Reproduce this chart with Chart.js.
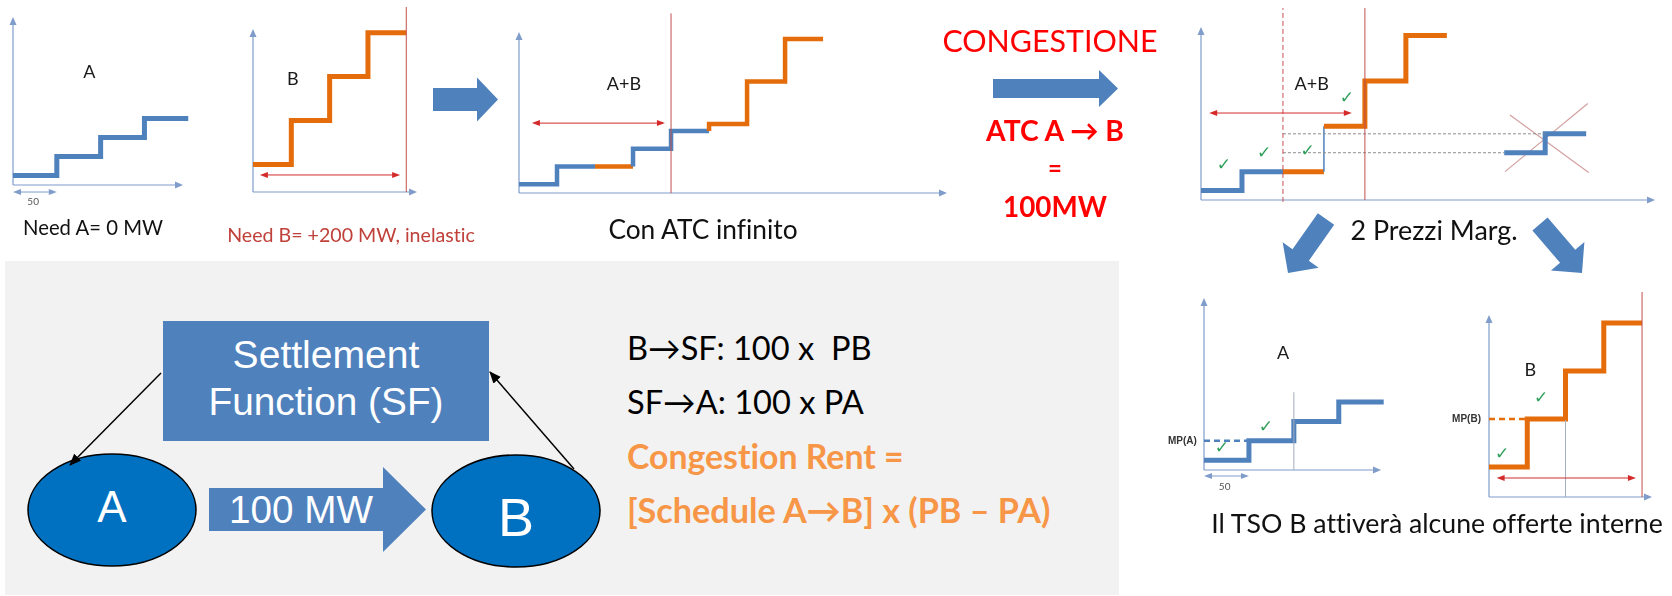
<!DOCTYPE html>
<html>
<head>
<meta charset="utf-8">
<script src="https://cdn.jsdelivr.net/npm/chart.js@4.4.1/dist/chart.umd.min.js"></script>
<style>
  body { margin: 0; width: 1672px; height: 596px; background: #fff; position: relative; overflow: hidden; }
  canvas { position: absolute; }
  svg { position: absolute; left: 0; top: 0; }
  .t { position: absolute; white-space: pre; line-height: 1; font-variant-ligatures: none; font-feature-settings: "liga" 0, "clig" 0; }
</style>
</head>
<body>
<svg id="deco" width="1672" height="596">
  <defs>
    <marker id="punta" markerWidth="12" markerHeight="10" refX="11" refY="5" orient="auto" markerUnits="userSpaceOnUse">
      <path d="M0,0 L12,5 L0,10 z" fill="#000"/>
    </marker>
  </defs>
  <rect x="5" y="261" width="1114" height="334" fill="#f2f2f2"/>
  <rect x="163" y="321" width="326" height="120" fill="#4f81bd"/>
  <ellipse cx="112" cy="510" rx="84" ry="56" fill="#0070c0" stroke="#000" stroke-width="1.5"/>
  <ellipse cx="516" cy="511" rx="84" ry="56" fill="#0070c0" stroke="#000" stroke-width="1.5"/>
  <line x1="161" y1="373" x2="70" y2="465" stroke="#000" stroke-width="1.5" marker-end="url(#punta)"/>
  <line x1="574" y1="469" x2="490" y2="372" stroke="#000" stroke-width="1.5" marker-end="url(#punta)"/>
</svg>
<script>
// ---- dati ----
const passoMW = 50;                   // ogni offerta vale 50 MW
const offerteA = [10, 30, 50, 70];    // prezzi offerte zona A
const offerteB = [30, 78, 126, 174];  // prezzi offerte zona B
const fabbisognoB = 200;              // Need B, MW
const atc = 100;                      // ATC A -> B, MW
const inizioScartate = 370;           // posizione (MW) delle offerte A non accettate, barrate

const BLU = '#4f81bd', ARANCIO = '#e46c0a', ROSSO = '#c0504d', ROSSO_F = '#d42a2a';
const ASSE = '#7f9ccb', GRIGIO = '#a3adbb', VERDE = '#2f9f5a';
const LATO = "Lato, 'Open Sans', sans-serif", ARIAL = "'Liberation Sans', Arial, sans-serif";

// gradini: due punti per offerta
function gradini(prezzi, q0 = 0) {
    const pts = [];
    prezzi.forEach((p, i) => {
        pts.push({ x: q0 + i * passoMW, y: p }, { x: q0 + (i + 1) * passoMW, y: p });
    });
    return pts;
}
const seg = (x0, y0, x1, y1) => [{ x: x0, y: y0 }, { x: x1, y: y1 }];

const serie = (data, colore, spessore, extra = {}) => ({
    data, borderColor: colore, borderWidth: spessore, pointRadius: 0, clip: false,
    borderJoinStyle: 'miter', borderCapStyle: 'butt', tension: 0, ...extra
});

// ordine di merito A+B (a parità di prezzo prima A)
const merito = [...offerteA.map(p => ({ p, z: 'A' })), ...offerteB.map(p => ({ p, z: 'B' }))]
    .sort((a, b) => a.p - b.p || (a.z < b.z ? -1 : 1));

// con congestione: A fino all'ATC, poi le offerte di B
const nA = atc / passoMW;
const congest = [...offerteA.slice(0, nA).map(p => ({ p, z: 'A' })), ...offerteB.map(p => ({ p, z: 'B' }))];

const coloreZona = z => z === 'A' ? BLU : ARANCIO;

// ---- helper disegno ----
function linea(ctx, x0, y0, x1, y1) { ctx.beginPath(); ctx.moveTo(x0, y0); ctx.lineTo(x1, y1); ctx.stroke(); }
function punta(ctx, x0, y0, x1, y1, len, half) {
    const a = Math.atan2(y1 - y0, x1 - x0);
    ctx.beginPath();
    ctx.moveTo(x1, y1);
    ctx.lineTo(x1 - len * Math.cos(a) + half * Math.sin(a), y1 - len * Math.sin(a) - half * Math.cos(a));
    ctx.lineTo(x1 - len * Math.cos(a) - half * Math.sin(a), y1 - len * Math.sin(a) + half * Math.cos(a));
    ctx.closePath(); ctx.fill();
}

const schema = {
    id: 'schema',
    beforeDatasetsDraw(chart) {
        const { ctx, chartArea: a } = chart;
        ctx.save();
        ctx.strokeStyle = ctx.fillStyle = ASSE; ctx.lineWidth = 1.2;
        linea(ctx, a.left, a.bottom, a.right - 4, a.bottom);
        linea(ctx, a.left, a.bottom, a.left, a.top + 4);
        punta(ctx, a.left, a.bottom, a.right, a.bottom, 8, 3.5);
        punta(ctx, a.left, a.bottom, a.left, a.top, 8, 3.5);
        ctx.restore();
    },
    afterDatasetsDraw(chart, args, o) {
        const { ctx, scales: { x, y } } = chart;
        ctx.save();
        (o.frecce || []).forEach(f => {
            const yy = y.getPixelForValue(f.y), xa = x.getPixelForValue(f.x0), xb = x.getPixelForValue(f.x1);
            ctx.strokeStyle = ctx.fillStyle = f.colore; ctx.lineWidth = 1;
            linea(ctx, xa + 3, yy, xb - 3, yy);
            punta(ctx, xb, yy, xa, yy, 8, 3);
            punta(ctx, xa, yy, xb, yy, 8, 3);
        });
        (o.spunte || []).forEach(s => {
            ctx.font = 'bold 17px "DejaVu Sans"'; ctx.fillStyle = VERDE;
            ctx.textAlign = 'center'; ctx.textBaseline = 'middle';
            ctx.fillText('\u2713', x.getPixelForValue(s[0]), y.getPixelForValue(s[1]));
        });
        (o.testi || []).forEach(t => {
            ctx.font = t.font; ctx.fillStyle = t.colore || '#222';
            ctx.textAlign = t.align || 'center'; ctx.textBaseline = 'middle';
            ctx.fillText(t.testo, x.getPixelForValue(t.x), y.getPixelForValue(t.y));
        });
        ctx.restore();
    }
};

function grafico(box, xMax, yMax, datasets, opz) {
    const pad = 50;
    const c = document.createElement('canvas');
    const w = box.r - box.l + 2 * pad, h = box.b - box.t + 2 * pad;
    c.width = w; c.height = h;
    c.style.left = (box.l - pad) + 'px'; c.style.top = (box.t - pad) + 'px';
    c.style.width = w + 'px'; c.style.height = h + 'px';
    document.body.appendChild(c);
    return new Chart(c, {
        type: 'line',
        data: { datasets },
        options: {
            responsive: false, animation: false, events: [],
            layout: { padding: pad },
            scales: {
                x: { type: 'linear', min: 0, max: xMax, display: false },
                y: { type: 'linear', min: 0, max: yMax, display: false }
            },
            plugins: { legend: { display: false }, tooltip: { enabled: false }, schema: opz }
        },
        plugins: [schema]
    });
}

const etich = (testo, x, y) => ({ testo, x, y, font: '18px ' + LATO, colore: '#1a1a1a' });
const quota = y => ({ x0: 0, x1: passoMW, y, colore: ASSE });

// A
grafico({ l: 13, t: 17, r: 183, b: 185 }, 194, 177,
    [serie(gradini(offerteA), BLU, 5)],
    { frecce: [quota(-7.4)], testi: [etich('A', 87, 119), { testo: '50', x: 23, y: -18, font: '10px ' + LATO, colore: '#555' }] });

// B
grafico({ l: 253, t: 29, r: 417, b: 192 }, 214, 178,
    [serie(seg(fabbisognoB, 0, fabbisognoB, 202), ROSSO, 1), serie(gradini(offerteB), ARANCIO, 5)],
    { frecce: [{ x0: 9, x1: 192, y: 18.6, colore: ROSSO_F }], testi: [etich('B', 52, 123)] });

// A+B, ATC infinito
grafico({ l: 519, t: 32, r: 947, b: 193 }, 563, 182,
    [serie(seg(fabbisognoB, 0, fabbisognoB, 203), ROSSO, 1),
     serie(gradini(merito.map(o => o.p)), BLU, 4.5, {
         segment: { borderColor: c => coloreZona(merito[Math.ceil(c.p0DataIndex / 2)].z) }
     })],
    { frecce: [{ x0: 17, x1: 192, y: 79, colore: ROSSO_F }], testi: [etich('A+B', 138, 123)] });

// congestione
grafico({ l: 1201, t: 27, r: 1655, b: 200 }, 554, 183,
    [serie(seg(atc, -2, atc, 203), ROSSO, 1, { borderDash: [5, 3] }),
     serie(seg(fabbisognoB, 0, fabbisognoB, 203), ROSSO, 1),
     serie(seg(atc, offerteA[2], inizioScartate, offerteA[2]), '#8c8c8c', 1, { borderDash: [3, 2] }),
     serie(seg(atc, offerteA[3], inizioScartate + passoMW, offerteA[3]), '#8c8c8c', 1, { borderDash: [3, 2] }),
     serie(gradini(congest.map(o => o.p)), BLU, 5, {
         segment: {
             // il tratto verticale tra B1 e B2 nel disegno è sottile e blu
             borderColor: c => c.p0DataIndex === 2 * nA + 1 ? BLU : coloreZona(congest[Math.ceil(c.p0DataIndex / 2)].z),
             borderWidth: c => c.p0DataIndex === 2 * nA + 1 ? 1.5 : 5
         }
     }),
     serie(gradini(offerteA.slice(nA), inizioScartate), BLU, 5),
     serie(seg(377, 90, 473, 29), '#d4a0a0', 1.2),
     serie(seg(371, 30, 472, 102), '#d4a0a0', 1.2)],
    { frecce: [{ x0: 10, x1: 184, y: 92, colore: ROSSO_F }], testi: [etich('A+B', 135, 123)],
      spunte: [[28, 36], [77, 49], [130, 51], [178, 107]] });

// A dopo la congestione
grafico({ l: 1204, t: 298, r: 1381, b: 470 }, 197, 177,
    [serie(seg(atc, 0, atc, 80), GRIGIO, 1),
     serie(seg(0, offerteA[1], passoMW, offerteA[1]), BLU, 2.5, { borderDash: [6, 4] }),
     serie(gradini(offerteA), BLU, 5)],
    { frecce: [quota(-6.2)],
      testi: [etich('A', 88, 120), { testo: '50', x: 23, y: -17.5, font: '10px ' + LATO, colore: '#555' },
              { testo: 'MP(A)', x: -8, y: offerteA[1], font: 'bold 10px ' + ARIAL, colore: '#333', align: 'right' }],
      spunte: [[20, 21.6], [69, 44]] });

// B dopo la congestione
grafico({ l: 1489, t: 315, r: 1652, b: 497 }, 213, 182,
    [serie(seg(atc, 0, atc, 77), GRIGIO, 1),
     serie(seg(fabbisognoB, 0, fabbisognoB, 205), ROSSO, 1),
     serie(seg(0, offerteB[1], passoMW, offerteB[1]), ARANCIO, 2.5, { borderDash: [6, 4] }),
     serie(gradini(offerteB), ARANCIO, 5)],
    { frecce: [{ x0: 10, x1: 192, y: 19, colore: ROSSO_F }],
      testi: [etich('B', 54, 127),
              { testo: 'MP(B)', x: -10.5, y: offerteB[1], font: 'bold 10px ' + ARIAL, colore: '#333', align: 'right' }],
      spunte: [[17, 42], [68, 98]] });

// ---- frecce a blocco ----
function frecciaBlocco(tx, ty, px, py, corpo, testa, lung) {
    const L = Math.hypot(px - tx, py - ty), dx = (px - tx) / L, dy = (py - ty) / L, nx = -dy, ny = dx;
    const bx = px - dx * lung, by = py - dy * lung;
    const pts = [[tx + nx * corpo, ty + ny * corpo], [bx + nx * corpo, by + ny * corpo], [bx + nx * testa, by + ny * testa],
                 [px, py], [bx - nx * testa, by - ny * testa], [bx - nx * corpo, by - ny * corpo], [tx - nx * corpo, ty - ny * corpo]];
    const p = document.createElementNS('http://www.w3.org/2000/svg', 'polygon');
    p.setAttribute('points', pts.map(q => q.join(',')).join(' '));
    p.setAttribute('fill', BLU);
    document.getElementById('deco').appendChild(p);
}
frecciaBlocco(433, 99.5, 498, 99.5, 11.5, 22, 21);
frecciaBlocco(993, 88.5, 1118, 88.5, 9.5, 18.5, 19);
frecciaBlocco(1326, 219, 1288, 273, 10, 22, 22);
frecciaBlocco(1540, 224, 1582, 273, 10, 22, 22);
frecciaBlocco(209, 509.5, 426, 509.5, 21.5, 42.5, 43);

// ---- testi ----
const testi = [
    ['Need A= 0 MW', 93, 227, 20, 400, '#111', LATO, 'c', 140],
    ['Need B= +200 MW, inelastic', 351, 235, 20, 400, '#c0403a', LATO, 'c', 248],
    ['Con ATC infinito', 703, 229, 25, 400, '#111', LATO, 'c', 189],
    ['CONGESTIONE', 1050, 40, 30, 400, '#ff0000', LATO, 'c', 215],
    ['ATC A \u2192 B', 1055, 130, 24, 700, '#ff0000', LATO, 'c', 138],
    ['=', 1055, 168, 24, 700, '#ff0000', LATO, 'c', 0],
    ['100MW', 1055, 207, 25, 700, '#ff0000', LATO, 'c', 104],
    ['2 Prezzi Marg.', 1434, 230, 25, 400, '#111', LATO, 'c', 167],
    ['Il TSO B attiverà alcune offerte interne', 1437, 523, 25, 400, '#111', LATO, 'c', 452],
    ['Settlement', 326, 355, 38, 400, '#fff', ARIAL, 'c', 187],
    ['Function (SF)', 326, 402, 38, 400, '#fff', ARIAL, 'c', 235],
    ['A', 112, 507, 44, 400, '#fff', ARIAL, 'c', 0],
    ['B', 516, 517, 54, 400, '#fff', ARIAL, 'c', 0],
    ['100 MW', 301, 510, 38, 400, '#fff', ARIAL, 'c', 144],
    ['B\u2192SF: 100 x  PB', 627, 348, 32, 400, '#000', LATO, 'l', 245],
    ['SF\u2192A: 100 x PA', 627, 402, 32, 400, '#000', LATO, 'l', 237],
    ['Congestion Rent =', 627, 457, 32, 700, '#f79646', LATO, 'l', 277],
    ['[Schedule A\u2192B] x (PB \u2013 PA)', 627, 510, 32, 700, '#f79646', LATO, 'l', 424]
];
testi.forEach(([s, x, y, fs, fw, col, fam, al, target]) => {
    const d = document.createElement('div');
    d.className = 't';
    d.textContent = s;
    Object.assign(d.style, { left: x + 'px', top: y + 'px', fontSize: fs + 'px', fontWeight: fw, color: col, fontFamily: fam,
        transform: al === 'c' ? 'translate(-50%,-50%)' : 'translate(0,-50%)' });
    document.body.appendChild(d);
    if (target) {
        const w = d.getBoundingClientRect().width;
        const k = Math.min(1.25, Math.max(0.8, target / w));
        d.style.fontSize = (fs * k).toFixed(1) + 'px';
    }
});
</script>
</body>
</html>
